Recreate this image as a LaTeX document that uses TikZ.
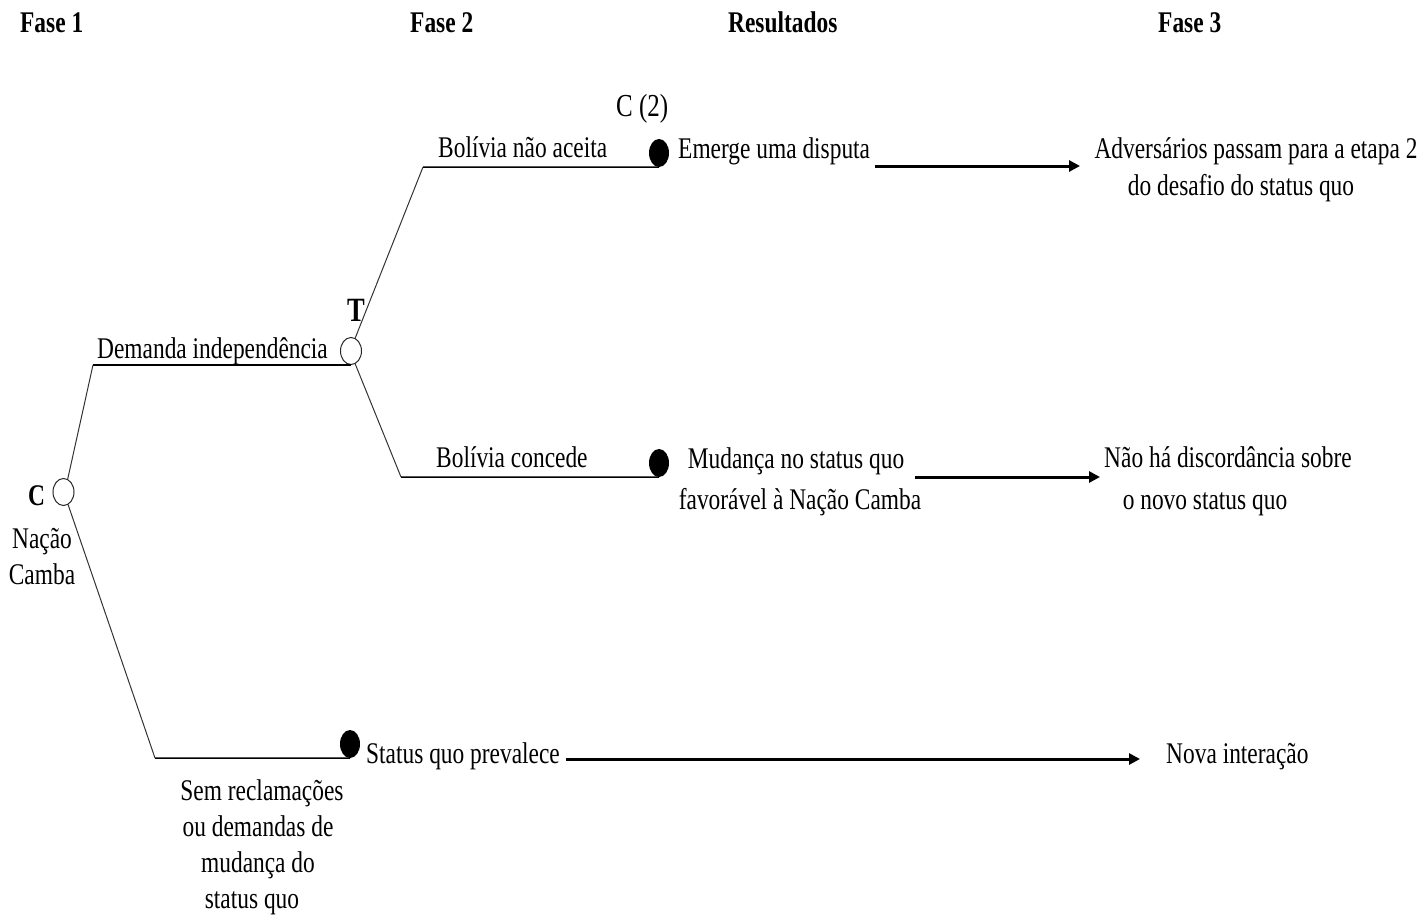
\documentclass[tikz,border=0pt]{standalone}
\usepackage{fontspec}
\setmainfont[FakeStretch=0.78]{Liberation Serif}
\usetikzlibrary{shapes.geometric,arrows.meta}
\begin{document}
\begin{tikzpicture}[x=1pt,y=-1pt,
  lbl/.style={inner sep=0pt,anchor=base west,font=\fontsize{30}{36}\selectfont},
  clbl/.style={lbl,anchor=base},
  hdr/.style={lbl,font=\fontsize{30}{36}\selectfont\bfseries},
  opennode/.style={ellipse,draw=black!85,line width=1pt,minimum width=21pt,minimum height=27pt,inner sep=0pt},
  chance/.style={ellipse,fill=black,minimum width=20pt,minimum height=28pt,inner sep=0pt},
  branch/.style={line width=1pt,draw=black!80},
  base/.style={line width=1.5pt},
  flow/.style={line width=3pt,-{Triangle[length=11pt,width=11pt]}}
]
\useasboundingbox (0,0) rectangle (1420,915);

% phase headers
\node[hdr] (h1) at (20,33) {Fase 1};
\node[hdr] (h2) at (410,33) {Fase 2};
\node[hdr] (h3) at (728,33) {Resultados};
\node[hdr] (h4) at (1158,33) {Fase 3};

% decision and terminal nodes
\node[opennode] (c0) at (63.5,492) {};
\node[opennode] (t)  at (351,351) {};
\node[chance] (r1) at (659,153) {};
\node[chance] (r2) at (659,463) {};
\node[chance] (r3) at (350,744) {};

% branch corners
\coordinate (k1) at (93,365);
\coordinate (k2) at (423,167);
\coordinate (k3) at (401,477);
\coordinate (k4) at (155,758);

% tree branches
\draw[branch] (c0.72) -- (k1);
\draw[base] (k1) -- (k1 -| t.south) -- (t.south);
\draw[branch] (t.72) -- (k2);
\draw[base] (k2) -- (r1.south);
\draw[branch] (t.288) -- (k3);
\draw[base] (k3) -- (r2.south);
\draw[branch] (c0.290) -- (k4);
\draw[base] (k4) -- (r3.south);

% node labels
\node[hdr] (lc) at (28,505) {C};
\node[clbl] (lnc1) at (42,548) {Nação};
\node[clbl] (lnc2) at (42,584) {Camba};
\node[hdr,font=\fontsize{34}{40}\selectfont\bfseries] (lt) at (347,321) {T};
\node[lbl,font=\fontsize{32}{38}\selectfont] (lc2) at (616,117) {C (2)};

% branch labels
\node[lbl] (b1) at (97,358) {Demanda independência};
\node[lbl] (b2) at (438,157) {Bolívia não aceita};
\node[lbl] (b3) at (436,467) {Bolívia concede};
\node[clbl] (b4a) at (262,800) {Sem reclamações};
\node[clbl] (b4b) at (258,836) {ou demandas de};
\node[clbl] (b4c) at (258,872) {mudança do};
\node[clbl] (b4d) at (252,908) {status quo};

% outcomes
\node[lbl] (o1) at (678,158) {Emerge uma disputa};
\node[clbl] (o2a) at (796,468) {Mudança no status quo};
\node[clbl] (o2b) at (800,509) {favorável à Nação Camba};
\node[lbl] (o3) at (366,763) {Status quo prevalece};

% third phase
\node[clbl] (p1a) at (1256,158) {Adversários passam para a etapa 2};
\node[clbl] (p1b) at (1241,195) {do desafio do status quo};
\node[clbl] (p2a) at (1228,467) {Não há discordância sobre};
\node[clbl] (p2b) at (1205,509) {o novo status quo};
\node[lbl] (p3) at (1166,763) {Nova interação};

% flow arrows
\coordinate (a1s) at (875,166);
\coordinate (a1e) at (1080,166);
\coordinate (a2s) at (915,477);
\coordinate (a2e) at (1100,477);
\coordinate (a3s) at (566,759);
\coordinate (a3e) at (1140,759);
\draw[flow] (a1s) -- (a1e);
\draw[flow] (a2s) -- (a2e);
\draw[flow] (a3s) -- (a3e);
\end{tikzpicture}
\end{document}
